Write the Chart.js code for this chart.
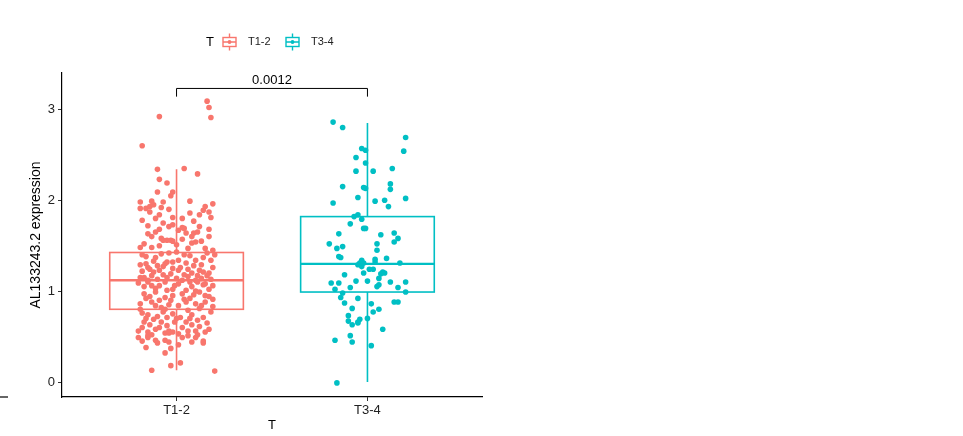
<!DOCTYPE html>
<html>
<head>
<meta charset="utf-8">
<script src="https://cdn.jsdelivr.net/npm/chart.js@4.4.1/dist/chart.umd.min.js"></script>
<style>
  html, body { margin: 0; padding: 0; background: #fff; }
  canvas { display: block; }
</style>
</head>
<body>
<canvas id="boxChart" width="963" height="436"></canvas>
<script>
// ---- data ----
const categories = ['T1-2', 'T3-4'];
const yTicks = [0, 1, 2, 3];
const colors = ['#F8766D', '#00BFC4'];

// box summaries (lower whisker, Q1, median, Q3, upper whisker)
const whiskerLow = [0.13, 0.00];
const boxQ1 = [0.80, 0.99];
const boxMedian = [1.12, 1.30];
const boxQ3 = [1.425, 1.82];
const whiskerHigh = [2.34, 2.85];

const pValue = '0.0012';

// jittered points: [offset from category centre, expression]
const t12Points = [
  [0.16,3.09],[0.17,3.02],[0.18,2.91],[-0.09,2.92],[-0.18,2.60],
  [-0.10,2.34],[0.04,2.35],[0.11,2.29],[-0.09,2.23],[-0.05,2.19],[-0.10,2.09],[-0.02,2.09],[-0.03,2.05],
  [-0.19,1.98],[-0.13,1.99],[-0.07,1.98],[0.07,1.99],[0.19,1.96],[-0.19,1.91],[-0.16,1.91],[-0.14,1.93],
  [-0.12,1.95],[-0.08,1.92],[-0.14,1.87],[0.14,1.89],[0.07,1.86],[0.17,1.87],[-0.09,1.84],[-0.02,1.81],
  [0.03,1.80],[0.12,1.84],[0.18,1.81],
  [-0.15,1.72],[-0.07,1.75],[-0.04,1.71],[-0.02,1.73],[0.03,1.70],[0.04,1.69],[0.12,1.71],[0.17,1.68],
  [-0.09,1.68],[0.01,1.67],
  [-0.15,1.63],[-0.11,1.65],[-0.08,1.58],[-0.07,1.56],[-0.05,1.56],[-0.03,1.56],[-0.02,1.55],[0.05,1.64],
  [0.09,1.64],[0.11,1.65],[0.03,1.57],[0.08,1.53],[0.10,1.54],
  [-0.19,1.48],[-0.13,1.48],[0.06,1.47],[0.15,1.47],[0.19,1.45],
  [-0.18,1.40],[-0.11,1.37],[-0.04,1.42],[-0.05,1.32],[-0.02,1.32],[0.01,1.34],[0.04,1.40],[0.10,1.34],
  [0.14,1.37],[0.18,1.34],[0.20,1.40],
  [-0.19,1.29],[-0.15,1.26],[-0.14,1.24],[-0.12,1.21],[-0.09,1.23],[-0.02,1.25],[0.01,1.23],[0.02,1.26],
  [0.06,1.24],[0.08,1.20],[0.12,1.23],[0.14,1.21],[0.17,1.20],
  [-0.17,1.15],[-0.15,1.12],[-0.05,1.15],[0.00,1.14],[0.06,1.16],[0.10,1.12],[0.13,1.14],[0.18,1.13],
  [-0.10,1.13],[0.03,1.12],
  [-0.16,1.38],[-0.08,1.41],[0.00,1.43],[0.07,1.39],[0.16,1.42],[-0.12,1.33],[-0.06,1.30],[0.05,1.31],
  [0.13,1.29],[-0.18,1.22],[-0.03,1.19],[0.04,1.18],[0.11,1.17],[-0.13,1.17],[0.19,1.26],[-0.07,1.27],
  [0.15,1.08],[-0.01,1.06],[-0.09,1.06],[0.08,1.05],
  [-0.20,1.09],[-0.17,1.05],[-0.15,1.10],[-0.11,1.03],[-0.06,1.10],[-0.02,1.02],[0.01,1.08],[0.05,1.01],
  [0.11,1.10],[0.14,1.07],[0.17,1.02],
  [-0.17,0.97],[-0.11,0.99],[-0.06,0.93],[-0.02,0.95],[0.03,0.97],[0.07,0.92],[0.12,0.99],[0.17,0.94],
  [-0.19,0.86],[-0.13,0.88],[-0.08,0.82],[-0.04,0.85],[0.01,0.84],[0.05,0.88],[0.10,0.86],[0.15,0.88],
  [0.19,0.83],
  [-0.18,0.76],[-0.15,0.74],[-0.10,0.72],[-0.07,0.77],[-0.02,0.75],[0.02,0.71],[0.08,0.74],[0.14,0.71],
  [0.18,0.77],
  [-0.17,0.66],[-0.14,0.63],[-0.08,0.66],[-0.05,0.62],[-0.01,0.66],[0.03,0.60],[0.08,0.63],[0.12,0.61],
  [-0.20,0.56],[-0.15,0.55],[-0.11,0.58],[-0.04,0.56],[0.01,0.53],[0.06,0.56],[0.15,0.55],
  [-0.14,0.94],[-0.03,0.90],[0.09,0.96],[0.19,0.91],[-0.09,0.90],[0.04,0.91],[-0.19,0.80],[-0.06,0.80],
  [0.06,0.79],[0.12,0.81],[-0.12,0.69],[0.00,0.70],[0.11,0.68],[0.16,0.65],
  [-0.20,0.49],[-0.15,0.49],[-0.15,0.51],[-0.11,0.46],[-0.10,0.43],[-0.06,0.46],[-0.04,0.44],[-0.06,0.54],
  [-0.04,0.54],[-0.02,0.55],[0.01,0.41],[0.03,0.49],[0.06,0.51],[0.10,0.49],[0.14,0.43],[0.14,0.45],
  [-0.16,0.38],[-0.06,0.32],[-0.03,0.37],[-0.03,0.18],[0.02,0.21],[-0.13,0.13],[0.20,0.12],
  [-0.17,1.52],[-0.09,1.50],[0.00,1.51],[0.13,1.55],[0.17,1.60],[-0.13,1.60],[0.08,1.60],[-0.18,1.78],
  [-0.11,1.80],[0.09,1.77],[0.15,1.93],[-0.04,1.90],[-0.16,1.30],[-0.10,1.28],[0.09,1.28],[-0.07,1.18],
  [0.16,1.17],[-0.19,1.15],[0.07,1.10],[-0.13,1.06],[0.19,1.06],[-0.05,1.01],[0.10,1.00],[-0.16,0.92],
  [0.15,0.95],[-0.11,0.84],[0.13,0.84],[0.07,0.70],[-0.16,0.70],[-0.05,0.71],[0.05,0.66],[-0.18,0.60],
  [0.17,0.58],[-0.09,0.60],[0.10,0.56],[-0.13,0.52],[0.11,0.52],[-0.18,0.45],[0.08,0.44]
];

const t34Points = [
  [-0.18,2.86],[-0.13,2.80],[0.20,2.69],[-0.03,2.57],[-0.01,2.55],[0.19,2.54],[-0.06,2.47],[-0.01,2.41],
  [-0.06,2.32],[0.03,2.32],[0.13,2.35],[-0.13,2.15],[-0.02,2.14],[-0.01,2.13],[0.12,2.18],[0.12,2.12],
  [-0.05,2.03],[0.20,2.02],[-0.18,1.97],[0.04,1.99],[0.09,2.00],[0.11,1.93],
  [-0.07,1.82],[-0.05,1.84],[-0.03,1.79],[-0.09,1.74],[-0.02,1.69],[-0.01,1.69],[-0.15,1.63],[0.07,1.62],
  [0.14,1.64],[0.16,1.58],[0.14,1.54],[-0.20,1.52],[-0.16,1.47],[-0.13,1.49],[0.05,1.52],[0.05,1.45],
  [-0.15,1.38],[-0.14,1.37],[-0.03,1.34],[0.04,1.35],[0.10,1.36],
  [-0.04,1.31],[-0.05,1.29],[-0.02,1.31],[-0.03,1.27],[0.04,1.32],[0.17,1.31],[0.01,1.24],[0.03,1.24],
  [-0.02,1.20],[0.08,1.21],[0.09,1.20],[0.07,1.19],[-0.12,1.18],[0.06,1.14],[-0.06,1.11],[0.00,1.11],
  [0.12,1.10],[0.20,1.10],[-0.19,1.09],[-0.15,1.09],[-0.09,1.04],[0.05,1.05],[0.06,1.07],[0.16,1.04],
  [-0.17,1.02],[0.20,0.99],[-0.13,0.98],[-0.14,0.93],[-0.05,0.92],[0.14,0.88],[0.16,0.88],[-0.12,0.87],
  [0.02,0.86],[-0.08,0.81],[0.06,0.80],[0.03,0.77],[-0.10,0.73],[0.00,0.70],
  [-0.10,0.67],[-0.08,0.63],[-0.05,0.65],[-0.04,0.69],[-0.05,0.66],[0.08,0.58],
  [-0.17,0.46],[-0.09,0.51],[-0.08,0.44],[0.02,0.40],[-0.16,-0.01]
];

const boxPlugin = {
  id: 'boxAnnotations',
  beforeDatasetsDraw(chart) {
    const { ctx, scales: { x, y } } = chart;
    const half = 0.35;
    categories.forEach((c, i) => {
      const cx = i + 1;
      const l = x.getPixelForValue(cx - half);
      const r = x.getPixelForValue(cx + half);
      const m = x.getPixelForValue(cx);
      const q1 = y.getPixelForValue(boxQ1[i]);
      const q3 = y.getPixelForValue(boxQ3[i]);
      const med = y.getPixelForValue(boxMedian[i]);
      ctx.save();
      ctx.strokeStyle = colors[i];
      ctx.lineWidth = 1.6;
      ctx.beginPath();
      ctx.moveTo(m, y.getPixelForValue(whiskerLow[i]));
      ctx.lineTo(m, q1);
      ctx.moveTo(m, q3);
      ctx.lineTo(m, y.getPixelForValue(whiskerHigh[i]));
      ctx.stroke();
      ctx.fillStyle = '#fff';
      ctx.fillRect(l, q3, r - l, q1 - q3);
      ctx.strokeRect(l, q3, r - l, q1 - q3);
      ctx.lineWidth = 2.4;
      ctx.beginPath();
      ctx.moveTo(l, med);
      ctx.lineTo(r, med);
      ctx.stroke();
      ctx.restore();
    });
  },
  afterDraw(chart) {
    const { ctx, scales: { x, y } } = chart;
    ctx.save();

    // p-value bracket
    const x1 = x.getPixelForValue(1), x2 = x.getPixelForValue(2);
    const top = y.getPixelForValue(3.23), foot = y.getPixelForValue(3.14);
    ctx.strokeStyle = '#000';
    ctx.lineWidth = 1;
    ctx.beginPath();
    ctx.moveTo(x1, foot); ctx.lineTo(x1, top); ctx.lineTo(x2, top); ctx.lineTo(x2, foot);
    ctx.stroke();
    ctx.fillStyle = '#000';
    ctx.font = '13px "Liberation Sans", Arial, sans-serif';
    ctx.textAlign = 'center';
    ctx.textBaseline = 'middle';
    ctx.fillText(pValue, (x1 + x2) / 2, top - 8);

    // legend
    const ly = 42;
    ctx.font = '13px "Liberation Sans", Arial, sans-serif';
    ctx.textAlign = 'left';
    ctx.fillText('T', 206, ly);
    ctx.font = '11px "Liberation Sans", Arial, sans-serif';
    const keys = [{ x: 223, tx: 248 }, { x: 286, tx: 311 }];
    keys.forEach((k, i) => {
      const cxk = k.x + 6.5;
      ctx.strokeStyle = colors[i];
      ctx.fillStyle = colors[i];
      ctx.lineWidth = 1.4;
      ctx.strokeRect(k.x, ly - 4.5, 13, 9);
      ctx.beginPath();
      ctx.moveTo(cxk, ly - 8.5); ctx.lineTo(cxk, ly - 4.5);
      ctx.moveTo(cxk, ly + 4.5); ctx.lineTo(cxk, ly + 8.5);
      ctx.moveTo(k.x, ly); ctx.lineTo(k.x + 13, ly);
      ctx.stroke();
      ctx.beginPath();
      ctx.arc(cxk, ly, 1.9, 0, Math.PI * 2);
      ctx.fill();
      ctx.fillStyle = '#222';
      ctx.fillText(categories[i], k.tx, ly);
    });

    // stub of a neighbouring panel's axis at the left edge
    ctx.strokeStyle = '#000';
    ctx.lineWidth = 1.2;
    ctx.beginPath();
    ctx.moveTo(0, y.bottom); ctx.lineTo(8, y.bottom);
    ctx.stroke();
    ctx.restore();
  }
};

const tickFont = { family: '"Liberation Sans", Arial, sans-serif', size: 13 };
const yTitleFont = { family: '"Liberation Sans", Arial, sans-serif', size: 14 };

new Chart(document.getElementById('boxChart'), {
  type: 'scatter',
  data: {
    datasets: [t12Points, t34Points].map((pts, i) => ({
      label: categories[i],
      data: pts.map(p => ({ x: i + 1 + p[0], y: p[1] })),
      backgroundColor: colors[i],
      borderColor: colors[i],
      borderWidth: 0,
      pointRadius: 2.8
    }))
  },
  options: {
    responsive: false,
    animation: false,
    devicePixelRatio: 1,
    layout: { padding: { left: 24, top: 73, right: 481, bottom: 0 } },
    plugins: { legend: { display: false }, tooltip: { enabled: false } },
    scales: {
      x: {
        type: 'linear',
        min: 0.4,
        max: 2.6,
        afterBuildTicks: s => { s.ticks = categories.map((c, i) => ({ value: i + 1 })); },
        afterFit: s => { s.height = 39; },
        ticks: {
          callback: v => categories[v - 1],
          color: '#222',
          font: tickFont,
          padding: 2,
          maxRotation: 0,
          autoSkip: false
        },
        grid: { drawOnChartArea: false, drawTicks: true, tickLength: 4, color: '#333' },
        border: { color: '#000', width: 1.2 },
        title: { display: true, text: 'T', color: '#000', font: tickFont, padding: { top: 2, bottom: 3 } }
      },
      y: {
        min: -0.165,
        max: 3.4,
        afterBuildTicks: s => { s.ticks = yTicks.map(v => ({ value: v })); },
        afterFit: s => { s.width = 38; },
        ticks: { color: '#222', font: tickFont, padding: 3 },
        grid: { drawOnChartArea: false, drawTicks: true, tickLength: 4, color: '#333' },
        border: { color: '#000', width: 1.2 },
        title: { display: true, text: 'AL133243.2 expression', color: '#000', font: yTitleFont, padding: { top: 4, bottom: 4 } }
      }
    }
  },
  plugins: [boxPlugin]
});
</script>
</body>
</html>
